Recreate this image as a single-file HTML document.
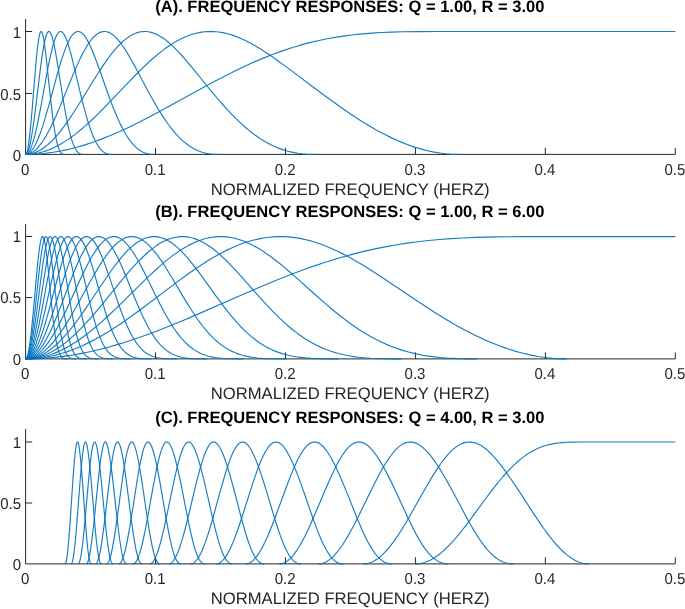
<!DOCTYPE html>
<html lang="en"><head><meta charset="utf-8"><title>TQWT Frequency Responses</title>
<style>html,body{margin:0;padding:0;background:#fff;overflow:hidden}svg text{white-space:pre;text-rendering:geometricPrecision}</style></head>
<body>
<svg width="685" height="609" viewBox="0 0 685 609" style="display:block">
<rect width="685" height="609" fill="#fff"/>
<g stroke="#262626" stroke-width="1.0" fill="none">
<path d="M25.60 19.00 V154.40 H675.30M155.54 154.40 v-6.60M285.48 154.40 v-6.60M415.42 154.40 v-6.60M545.36 154.40 v-6.60M675.30 154.40 v-6.60M25.60 93.40 h6.60M25.60 31.50 h6.60"/>
</g>
<g fill="none" stroke="#0072BD" stroke-width="1.15" stroke-opacity="0.92" stroke-linejoin="round">
<polyline points="25.6,154.4 30.16,154.34 34.76,154.17 39.32,153.87 43.92,153.46 48.52,152.94 53.16,152.29 57.8,151.52 62.48,150.64 67.2,149.63 71.92,148.51 76.68,147.26 81.47,145.9 86.35,144.4 91.27,142.78 96.26,141.02 101.3,139.14 110.34,135.52 119.74,131.45 129.53,126.9 139.92,121.78 149.68,116.75 160.47,111.01 171.33,105.08 200.99,88.71 210.03,83.81 218.2,79.48 227.56,74.66 236.36,70.28 244.81,66.26 252.98,62.54 262.73,58.36 272.29,54.55 281.69,51.1 291.01,47.98 300.29,45.18 309.57,42.68 318.88,40.47 328.32,38.54 336.57,37.09 345.02,35.82 353.66,34.74 362.58,33.84 371.78,33.11 381.5,32.53 391.85,32.09 403.11,31.79 418.34,31.58 438.36,31.51 675.3,31.5"/>
<polyline points="25.6,154.4 28.1,154.35 30.64,154.18 33.17,153.91 35.71,153.52 38.25,153.03 40.83,152.41 43.37,151.7 45.94,150.86 48.52,149.92 51.1,148.87 53.72,147.7 56.33,146.42 58.95,145.03 61.61,143.52 64.3,141.88 67,140.14 69.85,138.18 72.75,136.09 75.68,133.87 78.66,131.5 84.76,126.34 91.23,120.48 97.53,114.41 104.43,107.48 111.45,100.2 130.33,80.34 136.04,74.49 141.15,69.39 147.06,63.74 152.61,58.71 157.93,54.19 163.04,50.16 166.22,47.82 169.31,45.68 172.36,43.69 175.38,41.87 178.39,40.18 181.36,38.66 184.3,37.3 187.23,36.07 190.17,34.99 193.06,34.07 196,33.28 198.89,32.64 201.79,32.14 204.72,31.78 207.61,31.57 210.55,31.5 213.17,31.56 215.82,31.72 218.48,32.01 221.18,32.41 223.91,32.92 226.65,33.55 229.42,34.3 232.2,35.16 235.02,36.13 237.91,37.24 240.81,38.45 243.78,39.79 246.79,41.26 249.89,42.85 253.06,44.59 256.31,46.46 261.35,49.53 266.66,52.96 272.33,56.8 278.52,61.17 290.06,69.64 314.68,88.21 325.94,96.58 337.32,104.82 347.63,112 353.15,115.7 358.5,119.18 363.69,122.45 368.77,125.54 373.73,128.43 378.6,131.16 383.36,133.71 388.08,136.11 392.76,138.36 397.4,140.46 401.96,142.4 406.48,144.19 410.96,145.84 415.4,147.33 419.81,148.67 424.21,149.88 428.57,150.94 432.93,151.87 437.25,152.64 441.58,153.28 445.9,153.77 450.18,154.12 454.46,154.33 458.75,154.4"/>
<polyline points="25.6,154.4 27.27,154.34 28.93,154.18 30.6,153.89 32.26,153.5 33.93,153 35.63,152.37 37.3,151.64 39,150.79 40.71,149.82 42.41,148.74 44.12,147.55 45.82,146.26 47.57,144.82 49.31,143.28 52.88,139.81 56.65,135.7 60.5,131.06 64.5,125.81 68.74,119.83 72.83,113.74 77.31,106.75 81.83,99.49 93.92,79.75 97.57,73.95 100.82,68.93 104.59,63.33 108.12,58.36 111.49,53.9 114.7,49.96 116.69,47.68 118.67,45.53 120.61,43.56 122.52,41.76 124.42,40.09 126.28,38.6 128.15,37.24 130.01,36.02 131.87,34.95 133.7,34.03 135.52,33.26 137.35,32.63 139.17,32.13 140.99,31.78 142.82,31.57 144.64,31.5 146.27,31.55 147.89,31.72 149.52,31.99 151.15,32.36 152.77,32.84 154.44,33.43 156.1,34.13 157.81,34.95 159.51,35.88 161.26,36.92 163,38.07 164.79,39.34 168.44,42.22 172.24,45.61 175.26,48.54 178.43,51.82 181.8,55.49 185.41,59.6 192.31,67.84 207.02,85.99 213.76,94.16 220.9,102.5 227.56,109.89 231.25,113.8 234.86,117.47 238.39,120.92 241.88,124.18 245.29,127.21 248.7,130.08 252.07,132.76 255.44,135.29 258.93,137.72 262.42,139.99 265.87,142.05 269.36,143.95 272.85,145.68 276.34,147.24 279.86,148.64 283.43,149.88 287,150.96 290.65,151.89 294.38,152.67 298.15,153.3 302.03,153.78 306,154.13 310.08,154.33 314.36,154.4"/>
<polyline points="25.6,154.4 26.71,154.34 27.82,154.17 28.93,153.89 30.04,153.49 31.15,152.99 32.26,152.37 33.37,151.64 34.52,150.76 35.63,149.81 36.78,148.71 39.08,146.18 41.38,143.22 43.76,139.72 46.26,135.59 48.8,130.97 51.45,125.71 54.27,119.72 56.97,113.65 59.94,106.65 70.93,79.69 75.49,68.88 77.94,63.36 80.28,58.37 82.5,53.93 84.65,49.95 87.26,45.53 89.8,41.76 91.07,40.08 92.3,38.58 93.53,37.23 94.76,36.01 95.99,34.94 97.18,34.03 98.41,33.24 99.6,32.62 100.79,32.13 101.97,31.78 103.16,31.57 104.39,31.5 105.42,31.55 106.5,31.71 107.57,31.98 108.64,32.35 109.71,32.82 110.82,33.43 111.89,34.11 113,34.92 115.26,36.87 117.56,39.26 119.94,42.11 122.44,45.49 124.42,48.42 126.52,51.73 128.7,55.36 131.08,59.5 135.64,67.82 145.32,86.09 149.72,94.25 154.4,102.59 158.76,109.96 161.22,113.91 163.6,117.58 165.94,121.04 168.24,124.28 170.54,127.36 172.8,130.22 175.06,132.92 177.28,135.4 179.62,137.84 181.96,140.09 184.3,142.16 186.68,144.07 189.06,145.8 191.44,147.35 193.85,148.74 196.31,149.98 198.77,151.03 201.31,151.95 203.89,152.71 206.54,153.33 209.28,153.81 212.1,154.14 215.03,154.34 218.12,154.4"/>
<polyline points="25.6,154.4 26.31,154.35 27.07,154.18 27.82,153.89 28.57,153.48 29.29,152.99 30.04,152.36 31.55,150.76 33.06,148.7 34.56,146.21 36.11,143.22 37.69,139.72 39.36,135.59 41.07,130.93 42.85,125.62 44.71,119.66 48.48,106.61 55.82,79.57 58.83,68.84 60.5,63.22 62.04,58.28 63.51,53.87 64.94,49.88 66.68,45.46 68.35,41.75 70.01,38.57 71.64,36.01 72.47,34.92 73.26,34.02 74.06,33.25 74.85,32.62 75.64,32.14 76.44,31.79 77.23,31.57 78.06,31.5 78.74,31.55 79.45,31.71 80.16,31.98 80.88,32.35 81.59,32.83 82.31,33.41 83.77,34.92 85.28,36.88 86.79,39.23 88.37,42.1 90.04,45.49 92.74,51.69 95.79,59.52 98.8,67.8 108.16,94.28 111.25,102.58 114.15,109.95 117.36,117.57 120.49,124.37 123.55,130.33 125.05,133.02 126.52,135.48 128.11,137.95 129.65,140.17 131.2,142.22 132.79,144.12 134.37,145.84 136,147.42 137.62,148.81 139.25,150.02 140.92,151.08 142.58,151.97 144.33,152.73 146.11,153.34 147.93,153.81 149.84,154.14 151.86,154.34 153.96,154.4"/>
<polyline points="25.6,154.4 26.08,154.35 26.59,154.17 27.07,153.9 27.58,153.48 28.57,152.34 29.57,150.76 30.56,148.73 31.59,146.18 32.62,143.18 33.65,139.76 34.76,135.64 35.91,130.92 37.1,125.6 38.33,119.71 40.87,106.52 45.74,79.54 47.77,68.74 49.91,58.19 51.81,49.91 52.96,45.53 54.11,41.68 55.22,38.51 56.29,36 57.36,34.02 57.92,33.22 58.43,32.61 58.95,32.14 59.5,31.77 60.02,31.57 60.58,31.5 61.01,31.55 61.49,31.71 61.96,31.98 62.44,32.35 63.39,33.41 64.38,34.94 65.37,36.88 66.4,39.3 67.44,42.1 68.55,45.5 70.33,51.65 72.35,59.44 74.38,67.78 80.6,94.23 82.66,102.54 84.61,109.97 86.75,117.59 88.81,124.31 90.83,130.25 92.85,135.5 94.96,140.22 95.99,142.26 97.06,144.18 98.09,145.86 99.16,147.41 100.23,148.78 101.34,150.02 102.45,151.08 103.6,152 104.75,152.74 105.94,153.35 107.17,153.82 108.44,154.14 109.79,154.34 111.17,154.4"/>
<polyline points="25.6,154.4 25.92,154.35 26.23,154.19 26.55,153.92 26.91,153.5 27.54,152.42 28.22,150.83 28.89,148.78 29.57,146.28 30.24,143.36 30.95,139.83 32.46,131 34.09,119.71 35.75,106.73 40.39,68.64 41.82,58.09 43.09,49.82 43.84,45.53 44.59,41.74 45.35,38.51 46.06,35.99 46.78,34.02 47.49,32.61 47.85,32.12 48.2,31.77 48.56,31.57 48.92,31.5 49.23,31.56 49.55,31.73 50.19,32.39 50.82,33.47 51.45,34.95 52.13,36.93 52.8,39.31 53.52,42.23 54.23,45.51 55.42,51.67 56.77,59.45 62.28,94.33 64.94,109.99 66.36,117.62 67.75,124.39 69.1,130.32 70.41,135.42 71.8,140.11 73.23,144.16 74.65,147.45 75.37,148.81 76.08,150.01 76.83,151.08 77.59,151.99 78.34,152.72 79.13,153.34 79.97,153.81 80.8,154.14 81.71,154.34 82.66,154.4"/>
<polyline points="25.6,154.4 25.8,154.35 26.04,154.18 26.47,153.5 26.91,152.38 27.34,150.83 27.78,148.84 28.26,146.2 29.17,139.83 30.16,131.13 31.27,119.56 32.38,106.57 35.43,68.94 36.39,58.37 37.26,49.82 38.29,41.56 38.77,38.51 39.24,35.99 39.72,34.02 40.19,32.61 40.67,31.77 40.91,31.57 41.14,31.5 41.34,31.55 41.54,31.7 41.98,32.36 42.41,33.47 42.85,35 43.72,39.24 44.67,45.42 45.47,51.56 46.38,59.46 50.03,94.09 51.81,109.89 52.76,117.52 53.68,124.21 54.59,130.24 55.46,135.35 56.37,139.99 57.32,144.06 58.28,147.37 59.27,150.04 60.26,151.99 60.77,152.74 61.29,153.34 61.84,153.81 62.4,154.14 62.99,154.33 63.63,154.4"/>
</g>
<g font-family="'Liberation Sans', Arial, Helvetica, sans-serif" fill="#262626">
<g font-size="15.8" text-anchor="middle">
<text transform="translate(25.20 175.40) scale(0.95 1.0)">0</text>
<text transform="translate(155.14 175.40) scale(0.95 1.0)">0.1</text>
<text transform="translate(285.08 175.40) scale(0.95 1.0)">0.2</text>
<text transform="translate(415.02 175.40) scale(0.95 1.0)">0.3</text>
<text transform="translate(544.96 175.40) scale(0.95 1.0)">0.4</text>
<text transform="translate(674.90 175.40) scale(0.95 1.0)">0.5</text>
</g>
<g font-size="15.8" text-anchor="end">
<text transform="translate(21.00 161.20) scale(0.95 1.0)">0</text>
<text transform="translate(21.00 100.20) scale(0.95 1.0)">0.5</text>
<text transform="translate(21.00 38.30) scale(0.95 1.0)">1</text>
</g>
<text x="350.15" y="194.60" font-size="16.65" text-anchor="middle">NORMALIZED FREQUENCY (HERZ)</text>
<text x="349.85" y="12.40" font-size="16.55" font-weight="bold" text-anchor="middle" fill="#000">(A). FREQUENCY RESPONSES: Q = 1.00, R = 3.00</text>
</g>
<g stroke="#262626" stroke-width="1.0" fill="none">
<path d="M25.60 224.00 V358.90 H675.30M155.54 358.90 v-6.60M285.48 358.90 v-6.60M415.42 358.90 v-6.60M545.36 358.90 v-6.60M675.30 358.90 v-6.60M25.60 297.60 h6.60M25.60 236.50 h6.60"/>
</g>
<g fill="none" stroke="#0072BD" stroke-width="1.15" stroke-opacity="0.92" stroke-linejoin="round">
<polyline points="25.6,358.9 31.47,358.84 37.34,358.65 43.21,358.35 49.08,357.92 54.98,357.37 60.93,356.69 66.88,355.89 72.87,354.97 78.9,353.92 84.96,352.74 91.07,351.44 97.26,350.01 103.52,348.44 109.83,346.75 116.25,344.91 122.79,342.93 133.98,339.3 145.59,335.22 157.77,330.67 170.7,325.55 182.47,320.7 195.56,315.12 243.26,294.22 263.09,285.71 273.76,281.29 283.83,277.24 293.47,273.5 302.79,270.02 313.77,266.11 324.52,262.51 335.02,259.22 345.41,256.19 355.72,253.42 365.95,250.91 376.23,248.62 386.5,246.57 396.77,244.75 407.2,243.14 417.78,241.73 428.57,240.51 439.63,239.49 451.09,238.64 463.07,237.95 475.76,237.42 486.15,237.12 497.29,236.89 523.58,236.65 675.3,236.6"/>
<polyline points="25.6,358.9 29.29,358.84 33.02,358.67 36.7,358.38 40.43,357.97 44.16,357.45 47.89,356.81 51.61,356.06 55.38,355.18 59.15,354.19 62.95,353.07 66.76,351.84 70.57,350.5 74.41,349.03 78.3,347.44 82.23,345.72 86.15,343.89 90.24,341.87 94.36,339.72 98.56,337.42 102.81,334.99 107.13,332.41 111.53,329.68 116.05,326.77 120.73,323.65 129.57,317.53 139.25,310.52 148.97,303.26 174.58,283.85 182.24,278.19 189.1,273.26 196.99,267.8 204.36,262.96 211.42,258.6 218.2,254.7 222.37,252.46 226.49,250.37 230.53,248.44 234.54,246.67 238.51,245.03 242.39,243.57 246.28,242.23 250.12,241.05 253.97,240 257.78,239.09 261.58,238.33 265.35,237.7 269.12,237.22 272.89,236.88 276.65,236.67 280.42,236.6 284.03,236.66 287.64,236.85 291.29,237.17 294.93,237.61 298.58,238.18 302.27,238.88 306,239.71 309.72,240.66 313.49,241.74 317.3,242.96 321.15,244.3 325.07,245.79 329.04,247.42 333.04,249.17 337.13,251.06 341.33,253.13 347.99,256.61 354.97,260.51 362.35,264.87 370.24,269.76 377.14,274.19 384.87,279.28 412.43,297.84 423.69,305.31 435.23,312.73 445.86,319.26 451.65,322.68 457.28,325.89 462.79,328.92 468.18,331.78 473.5,334.48 478.77,337.04 483.97,339.44 489.12,341.7 494.24,343.82 499.27,345.78 504.27,347.6 509.23,349.29 514.14,350.83 519.06,352.24 523.94,353.51 528.78,354.65 533.61,355.65 538.41,356.51 543.21,357.24 547.97,357.84 552.77,358.31 557.53,358.64 562.28,358.83 567.04,358.9"/>
<polyline points="25.6,358.9 28.53,358.84 31.47,358.66 34.4,358.36 37.38,357.94 40.35,357.4 43.33,356.73 46.3,355.95 49.27,355.05 52.25,354.03 55.26,352.87 58.28,351.6 61.33,350.2 64.38,348.68 67.48,347.02 70.57,345.25 73.7,343.34 76.91,341.27 80.12,339.08 83.42,336.73 86.75,334.23 90.12,331.6 93.57,328.8 100.75,322.66 107.57,316.48 115.06,309.39 122.56,302.07 141.95,282.85 147.66,277.33 152.77,272.51 158.68,267.16 164.19,262.41 169.43,258.16 174.46,254.36 177.6,252.14 180.65,250.1 183.66,248.21 186.64,246.47 189.57,244.87 192.47,243.43 195.32,242.13 198.18,240.97 201.03,239.94 203.85,239.05 206.66,238.3 209.44,237.69 212.25,237.21 215.03,236.87 217.81,236.67 220.58,236.6 223.16,236.66 225.74,236.83 228.31,237.12 230.89,237.52 233.51,238.05 236.13,238.68 238.74,239.44 241.4,240.31 244.06,241.3 246.75,242.41 249.49,243.65 252.23,245 255,246.47 257.86,248.09 260.75,249.84 263.69,251.72 268.48,254.99 273.52,258.68 278.79,262.79 284.43,267.4 289.5,271.72 295.13,276.64 316.15,295.5 325.07,303.35 334.39,311.22 338.75,314.75 342.99,318.07 347.91,321.77 352.71,325.22 357.47,328.48 362.15,331.5 366.83,334.35 371.47,337.01 376.11,339.48 380.75,341.79 385.82,344.1 390.9,346.22 396.01,348.15 401.21,349.9 406.48,351.48 411.84,352.89 417.31,354.14 422.9,355.23 428.53,356.14 434.36,356.92 440.39,357.55 446.73,358.06 453.35,358.44 460.41,358.7 468.11,358.85 476.79,358.9"/>
<polyline points="25.6,358.9 27.98,358.84 30.4,358.66 32.82,358.35 35.24,357.92 37.65,357.37 40.07,356.7 42.49,355.91 44.95,354.98 47.37,353.95 49.83,352.78 52.29,351.5 54.79,350.07 57.28,348.52 59.78,346.85 62.32,345.04 64.86,343.12 67.48,341.02 70.09,338.8 72.75,336.44 75.45,333.93 81,328.43 86.83,322.23 92.34,316.02 98.41,308.87 104.43,301.55 119.94,282.43 124.5,276.94 128.58,272.15 133.26,266.87 137.62,262.19 141.79,257.98 145.79,254.21 148.29,252 150.71,249.98 153.09,248.12 155.47,246.38 157.81,244.79 160.11,243.36 162.37,242.08 164.63,240.93 166.89,239.9 169.11,239.03 171.33,238.29 173.55,237.68 175.77,237.2 177.95,236.87 180.17,236.67 182.35,236.6 184.38,236.66 186.4,236.82 188.42,237.11 190.44,237.5 192.47,238 194.53,238.63 196.59,239.36 198.65,240.21 200.75,241.18 202.86,242.26 205,243.47 207.14,244.79 209.32,246.23 211.54,247.81 216.06,251.32 219.87,254.57 223.83,258.21 228,262.28 232.4,266.8 236.44,271.13 240.92,276.06 257.94,295.3 265.27,303.42 269.24,307.67 272.97,311.56 276.57,315.2 280.06,318.6 284.19,322.44 288.19,325.98 292.16,329.3 296.08,332.38 300.01,335.27 303.94,337.96 307.86,340.44 311.79,342.73 316.11,345.03 320.47,347.11 324.91,349 329.43,350.7 334.03,352.22 338.79,353.56 343.67,354.73 348.71,355.73 353.78,356.56 359.09,357.24 364.73,357.8 370.71,358.23 377.06,358.54 384.04,358.75 391.93,358.86 401.6,358.9"/>
<polyline points="25.6,358.9 27.58,358.84 29.57,358.66 31.55,358.35 33.57,357.91 35.55,357.36 37.58,356.68 39.56,355.89 41.58,354.95 43.6,353.9 45.63,352.73 47.65,351.43 49.67,350.02 51.73,348.46 53.79,346.79 55.9,344.96 58,343.02 60.14,340.92 62.32,338.67 66.72,333.78 71.28,328.27 76.08,322.04 80.64,315.77 85.6,308.64 90.55,301.29 103.24,282.2 110.26,272.01 114.07,266.77 117.64,262.09 121.05,257.88 124.3,254.13 126.32,251.95 128.31,249.93 130.25,248.07 132.19,246.33 134.09,244.75 135.96,243.33 137.82,242.04 139.65,240.9 141.47,239.89 143.29,239.01 145.12,238.27 146.9,237.67 148.73,237.2 150.51,236.86 152.3,236.67 154.08,236.6 155.71,236.66 157.33,236.82 158.96,237.1 160.62,237.5 162.25,237.99 163.92,238.61 165.58,239.34 167.25,240.17 168.95,241.14 170.66,242.21 172.36,243.39 174.11,244.7 177.64,247.67 181.28,251.14 184.38,254.37 187.59,257.99 190.96,262.02 194.57,266.58 197.86,270.9 201.55,275.89 215.51,295.32 221.57,303.57 227.96,311.86 230.93,315.53 233.83,318.97 237.24,322.85 240.61,326.48 243.9,329.81 247.19,332.94 250.44,335.82 253.73,338.52 257.02,341.01 260.32,343.29 263.92,345.56 267.61,347.63 271.34,349.48 275.15,351.14 279.07,352.62 283.08,353.91 287.24,355.03 291.6,355.99 295.96,356.77 300.56,357.41 305.44,357.92 310.68,358.31 316.27,358.59 322.53,358.77 329.75,358.87 338.95,358.9"/>
<polyline points="25.6,358.9 27.23,358.84 28.89,358.65 30.52,358.35 32.18,357.92 33.85,357.36 35.51,356.68 37.18,355.88 38.84,354.95 40.51,353.9 42.22,352.7 43.88,351.42 45.59,349.98 47.29,348.42 49,346.74 52.49,342.95 56.05,338.61 59.7,333.71 63.51,328.14 67.48,321.91 71.2,315.71 75.33,308.54 89.92,282.08 95.71,271.92 98.88,266.63 101.82,261.97 104.59,257.83 107.29,254.07 110.58,249.89 112.21,248 113.79,246.29 115.34,244.73 116.88,243.31 118.43,242.01 119.94,240.87 121.45,239.87 122.95,238.99 124.46,238.25 125.93,237.65 127.39,237.19 128.86,236.86 130.33,236.67 131.79,236.6 133.1,236.65 134.45,236.82 135.8,237.1 137.15,237.48 138.5,237.98 139.88,238.61 141.23,239.32 142.62,240.16 144.01,241.12 145.4,242.18 148.21,244.64 151.11,247.58 154.12,251.05 156.66,254.27 159.32,257.9 162.09,261.93 165.07,266.49 170.81,275.82 182.35,295.34 187.39,303.67 192.7,312.05 197.58,319.22 200.44,323.14 203.21,326.75 205.95,330.1 208.69,333.23 211.38,336.11 214.12,338.81 216.85,341.29 219.63,343.58 222.64,345.84 225.7,347.88 228.83,349.72 232.04,351.37 235.33,352.83 238.7,354.09 242.23,355.2 245.88,356.13 249.57,356.88 253.45,357.49 257.58,357.98 262.06,358.35 266.86,358.61 272.25,358.78 286.73,358.9"/>
<polyline points="25.6,358.9 26.95,358.84 28.34,358.65 29.72,358.34 31.11,357.9 32.46,357.36 33.85,356.67 35.24,355.87 36.62,354.93 38.01,353.88 39.4,352.71 40.79,351.42 42.22,349.97 45.07,346.7 47.97,342.92 50.94,338.55 53.95,333.67 57.13,328.08 60.42,321.85 63.55,315.57 66.96,308.42 79.01,282.09 83.81,271.93 86.43,266.67 88.85,262.05 91.19,257.83 93.41,254.09 96.15,249.9 98.76,246.36 100.07,244.77 101.34,243.35 102.61,242.06 103.88,240.9 105.15,239.88 106.38,239.01 107.61,238.28 108.83,237.67 110.06,237.2 111.29,236.87 112.52,236.67 113.71,236.6 114.82,236.65 115.93,236.82 117.04,237.09 118.15,237.48 119.26,237.97 120.41,238.59 121.52,239.3 122.67,240.14 124.97,242.14 127.31,244.61 129.73,247.58 132.19,251 134.29,254.21 136.47,257.8 138.77,261.84 141.23,266.38 146.03,275.78 155.63,295.4 159.79,303.72 164.19,312.1 168.28,319.34 170.66,323.29 172.96,326.89 175.26,330.28 177.52,333.39 179.78,336.28 182.04,338.96 184.34,341.46 186.64,343.74 189.14,345.98 191.71,348.03 194.33,349.87 196.99,351.49 199.72,352.93 202.54,354.18 205.47,355.26 208.57,356.19 211.66,356.93 214.91,357.53 218.4,358.01 222.17,358.37 226.21,358.62 230.77,358.79 243.18,358.9"/>
<polyline points="25.6,358.9 26.71,358.84 27.86,358.66 29.01,358.35 30.16,357.92 31.31,357.36 32.46,356.68 33.61,355.87 34.76,354.95 35.91,353.9 37.1,352.69 39.44,349.95 41.82,346.68 44.2,342.93 46.66,338.6 49.19,333.67 51.81,328.13 54.55,321.9 57.17,315.59 60.02,308.4 70.05,282.05 74.06,271.86 76.24,266.59 78.26,261.94 80.16,257.82 82.03,254.05 84.29,249.89 86.47,246.34 88.61,243.34 89.68,242.03 90.71,240.9 91.74,239.9 92.77,239.02 93.81,238.28 94.84,237.67 95.87,237.2 96.86,236.87 97.89,236.67 98.88,236.6 99.79,236.65 100.71,236.81 101.62,237.08 102.57,237.47 103.48,237.96 104.43,238.58 105.38,239.31 106.34,240.15 108.24,242.15 110.18,244.61 112.17,247.54 114.23,250.99 115.97,254.2 117.8,257.82 119.7,261.84 121.76,266.43 125.73,275.79 133.7,295.41 137.15,303.71 140.84,312.16 144.21,319.36 146.15,323.24 148.09,326.91 150,330.28 151.9,333.43 153.8,336.36 155.71,339.07 157.61,341.55 159.51,343.81 161.62,346.07 163.72,348.07 165.9,349.9 168.12,351.53 170.42,352.97 172.76,354.22 175.22,355.3 177.79,356.22 180.37,356.95 183.11,357.55 186,358.02 189.17,358.38 192.59,358.63 196.43,358.79 206.94,358.9"/>
<polyline points="25.6,358.9 26.55,358.84 27.5,358.65 28.46,358.34 29.41,357.91 30.36,357.36 31.31,356.68 32.26,355.88 33.25,354.92 34.21,353.88 35.2,352.67 37.14,349.93 39.12,346.65 41.1,342.9 43.17,338.53 45.27,333.61 47.45,328.06 49.75,321.77 51.89,315.57 54.27,308.37 62.64,281.98 65.97,271.8 67.75,266.62 69.46,261.92 71.04,257.79 72.59,254.04 74.49,249.83 76.32,246.27 78.1,243.28 79.85,240.86 80.72,239.84 81.55,239 82.42,238.25 83.26,237.66 84.13,237.18 84.96,236.86 85.8,236.66 86.63,236.6 87.38,236.65 88.14,236.82 88.89,237.08 89.68,237.48 90.44,237.96 91.23,238.58 92.81,240.15 94.4,242.15 96.03,244.63 97.69,247.59 99.4,251.03 100.86,254.28 102.37,257.88 103.96,261.91 105.66,266.48 108.95,275.82 115.58,295.42 118.47,303.79 121.52,312.19 124.34,319.42 125.97,323.32 127.59,327 129.18,330.38 130.76,333.53 132.35,336.46 133.94,339.16 135.52,341.63 137.11,343.89 138.85,346.13 140.64,348.17 142.42,349.96 144.29,351.59 146.19,353.02 148.17,354.27 150.19,355.33 152.34,356.24 154.48,356.97 156.78,357.57 159.2,358.03 161.85,358.39 164.71,358.63 167.92,358.79 176.72,358.9"/>
<polyline points="25.6,358.9 26.39,358.84 27.19,358.65 27.98,358.34 28.77,357.91 29.57,357.35 30.36,356.68 31.15,355.88 31.98,354.91 33.57,352.7 35.2,349.96 36.86,346.65 38.53,342.87 40.23,338.53 41.98,333.64 43.8,328.06 45.7,321.82 49.47,308.41 56.45,281.98 59.23,271.8 62.12,261.95 63.47,257.74 64.74,254.04 66.33,249.83 67.83,246.3 69.3,243.34 70.77,240.88 72.19,239.01 72.91,238.27 73.62,237.66 74.34,237.19 75.05,236.86 75.76,236.66 76.44,236.6 77.07,236.66 77.71,236.82 78.34,237.1 79.01,237.5 80.28,238.6 81.59,240.16 82.9,242.15 84.25,244.61 85.64,247.57 87.06,251.03 88.25,254.19 89.52,257.82 92.26,266.4 95,275.72 102.97,303.86 105.5,312.25 107.84,319.45 110.54,327 111.89,330.45 113.2,333.57 114.51,336.46 115.81,339.14 117.12,341.6 118.47,343.9 119.94,346.16 121.41,348.17 122.91,349.99 124.46,351.61 126.04,353.03 127.71,354.29 129.42,355.36 131.2,356.27 132.98,356.99 134.89,357.58 136.91,358.04 139.13,358.39 141.47,358.63 144.17,358.79 151.54,358.9"/>
<polyline points="25.6,358.9 26.23,358.84 26.91,358.66 27.58,358.34 28.26,357.9 28.89,357.37 29.57,356.68 30.91,354.92 32.26,352.66 33.61,349.92 34.96,346.72 36.35,342.94 37.77,338.59 39.24,333.65 40.75,328.13 42.33,321.88 45.51,308.34 51.3,282.02 53.6,271.89 56.02,262 58.2,254.09 59.5,249.91 60.77,246.33 62,243.35 63.23,240.88 64.42,239.01 65.02,238.27 65.61,237.66 66.21,237.19 66.8,236.86 67.4,236.66 67.95,236.6 68.47,236.65 69.02,236.83 69.54,237.09 70.09,237.5 71.16,238.6 72.23,240.14 73.34,242.16 74.45,244.6 75.6,247.54 76.79,250.99 78.86,257.83 81.12,266.33 83.42,275.73 90.04,303.8 92.18,312.3 94.12,319.48 96.38,327.07 98.56,333.54 99.64,336.39 100.75,339.12 101.86,341.62 102.97,343.9 104.2,346.17 105.42,348.19 106.69,350.02 107.96,351.61 109.27,353.02 110.66,354.29 112.09,355.36 113.55,356.26 115.06,356.99 116.65,357.58 118.35,358.04 120.18,358.39 122.16,358.64 124.38,358.79 130.57,358.9"/>
<polyline points="25.6,358.9 26.12,358.85 26.67,358.67 27.23,358.36 27.78,357.93 28.34,357.37 28.89,356.69 30,354.96 31.11,352.75 32.26,349.96 33.41,346.67 34.56,342.92 35.75,338.56 36.98,333.59 38.25,328 39.56,321.81 42.18,308.4 47.01,282.01 48.92,271.95 50.94,262.02 52.76,254.08 53.83,249.97 54.9,246.34 55.94,243.34 56.97,240.86 57.96,238.99 58.95,237.65 59.46,237.16 59.94,236.85 60.42,236.66 60.89,236.6 61.33,236.66 61.76,236.82 62.2,237.09 62.68,237.5 63.55,238.58 64.46,240.14 65.37,242.14 66.33,244.65 67.28,247.58 68.27,251.03 69.97,257.82 71.88,266.42 73.78,275.77 79.29,303.81 81.08,312.31 82.7,319.52 84.61,327.18 86.43,333.66 88.25,339.24 90.08,343.94 91.07,346.14 92.1,348.17 93.17,350.03 94.24,351.64 95.35,353.07 96.5,354.32 97.69,355.39 98.92,356.28 100.19,357.01 101.5,357.59 102.89,358.04 104.43,358.4 106.06,358.64 107.92,358.79 113.08,358.9"/>
<polyline points="25.6,358.9 26.04,358.84 26.51,358.66 26.95,358.37 27.42,357.92 28.34,356.7 29.29,354.92 30.2,352.73 31.15,349.96 32.1,346.7 33.09,342.81 34.09,338.44 35.12,333.42 37.26,321.66 39.44,308.23 45.03,271.94 46.74,261.91 48.24,254.04 49.15,249.85 50.03,246.31 50.9,243.27 51.73,240.87 52.57,238.99 53.36,237.69 53.79,237.19 54.19,236.87 54.59,236.67 54.98,236.6 55.34,236.65 55.7,236.8 56.05,237.05 56.45,237.45 57.2,238.55 57.96,240.09 58.71,242.05 59.5,244.54 60.3,247.45 61.13,250.92 62.56,257.73 64.14,266.33 65.73,275.66 70.33,303.75 71.8,312.14 73.19,319.54 74.73,327.02 76.28,333.62 77.79,339.16 79.33,343.95 80.16,346.17 81.04,348.23 81.91,350.04 82.78,351.61 83.69,353.03 84.65,354.28 85.64,355.35 86.67,356.26 87.7,356.98 88.81,357.57 90,358.04 91.27,358.39 92.66,358.64 94.2,358.79 98.49,358.9"/>
<polyline points="25.6,358.9 25.96,358.85 26.35,358.66 26.71,358.38 27.11,357.94 27.86,356.74 28.65,354.97 29.45,352.69 30.24,349.91 31.03,346.64 31.83,342.9 32.66,338.51 33.49,333.66 35.28,321.93 37.1,308.48 41.82,271.74 43.21,261.95 44.48,254 45.23,249.85 45.94,246.37 46.66,243.37 47.37,240.89 48.08,238.96 48.76,237.65 49.12,237.17 49.43,236.86 49.79,236.66 50.11,236.6 50.38,236.65 50.7,236.81 51.34,237.49 51.97,238.62 52.6,240.2 53.24,242.21 53.87,244.63 54.55,247.61 55.22,251 56.41,257.82 57.72,266.33 62.88,303.76 64.1,312.19 65.25,319.54 66.56,327.14 67.83,333.63 69.1,339.23 70.37,343.94 71.08,346.21 71.8,348.23 72.51,350.01 73.26,351.64 74.02,353.04 74.81,354.29 75.64,355.37 76.52,356.29 77.39,357.01 78.3,357.59 79.25,358.04 80.32,358.39 81.47,358.64 82.78,358.79 86.35,358.9"/>
<polyline points="25.6,358.9 25.92,358.84 26.23,358.65 26.87,357.92 27.5,356.7 28.18,354.87 28.81,352.66 29.49,349.82 30.12,346.67 30.79,342.86 32.18,333.61 33.69,321.71 35.2,308.36 39.12,271.68 40.27,261.95 41.34,253.91 42.57,246.26 43.17,243.28 43.76,240.82 44.36,238.9 44.91,237.62 45.47,236.85 45.74,236.66 46.02,236.6 46.26,236.65 46.54,236.83 47.05,237.5 47.57,238.6 48.08,240.13 48.6,242.07 49.15,244.6 50.27,250.87 51.26,257.68 52.37,266.34 56.69,303.98 58.63,319.45 59.7,326.92 60.77,333.52 61.84,339.2 62.91,343.97 64.1,348.25 64.7,350.03 65.33,351.68 65.97,353.08 66.64,354.35 67.32,355.39 68.03,356.29 68.74,357 69.5,357.58 70.33,358.05 71.2,358.39 72.15,358.64 73.23,358.79 76.24,358.9"/>
<polyline points="25.6,358.9 25.84,358.85 26.12,358.67 26.67,357.89 27.19,356.7 27.74,354.89 28.26,352.76 28.81,349.96 29.92,342.91 31.07,333.73 32.34,321.71 33.61,308.21 36.86,271.75 37.81,262.07 38.69,254.18 39.72,246.43 40.23,243.32 40.71,240.94 41.18,239.06 41.66,237.7 42.14,236.88 42.37,236.67 42.61,236.6 42.81,236.65 43.05,236.83 43.48,237.51 43.92,238.65 44.36,240.22 45.23,244.6 46.18,251.08 47.01,257.97 47.93,266.53 51.49,303.85 53.12,319.39 54.03,327.03 54.9,333.47 55.78,339.04 56.69,343.93 57.64,348.08 58.67,351.56 59.19,352.95 59.74,354.22 60.34,355.35 60.93,356.25 61.53,356.97 62.16,357.56 62.84,358.03 63.59,358.39 64.38,358.63 65.29,358.79 67.79,358.9"/>
</g>
<g font-family="'Liberation Sans', Arial, Helvetica, sans-serif" fill="#262626">
<g font-size="15.8" text-anchor="middle">
<text transform="translate(25.20 378.90) scale(0.95 1.0)">0</text>
<text transform="translate(155.14 378.90) scale(0.95 1.0)">0.1</text>
<text transform="translate(285.08 378.90) scale(0.95 1.0)">0.2</text>
<text transform="translate(415.02 378.90) scale(0.95 1.0)">0.3</text>
<text transform="translate(544.96 378.90) scale(0.95 1.0)">0.4</text>
<text transform="translate(674.90 378.90) scale(0.95 1.0)">0.5</text>
</g>
<g font-size="15.8" text-anchor="end">
<text transform="translate(21.00 364.70) scale(0.95 1.0)">0</text>
<text transform="translate(21.00 303.40) scale(0.95 1.0)">0.5</text>
<text transform="translate(21.00 242.30) scale(0.95 1.0)">1</text>
</g>
<text x="350.15" y="399.10" font-size="16.65" text-anchor="middle">NORMALIZED FREQUENCY (HERZ)</text>
<text x="349.85" y="217.40" font-size="16.55" font-weight="bold" text-anchor="middle" fill="#000">(B). FREQUENCY RESPONSES: Q = 1.00, R = 6.00</text>
</g>
<g stroke="#262626" stroke-width="1.0" fill="none">
<path d="M25.60 429.10 V563.90 H675.30M155.54 563.90 v-6.60M285.48 563.90 v-6.60M415.42 563.90 v-6.60M545.36 563.90 v-6.60M675.30 563.90 v-6.60M25.60 503.00 h6.60M25.60 442.00 h6.60"/>
</g>
<g fill="none" stroke="#0072BD" stroke-width="1.15" stroke-opacity="0.92" stroke-linejoin="round">
<polyline points="415.4,563.9 417.23,563.84 419.05,563.67 420.88,563.38 422.74,562.97 424.56,562.46 426.43,561.81 428.29,561.05 430.16,560.18 432.02,559.19 433.92,558.07 435.83,556.84 437.77,555.47 439.71,553.98 441.7,552.36 445.7,548.77 449.31,545.19 453.08,541.13 457,536.61 461.17,531.52 465.05,526.56 469.37,520.85 485.55,498.78 492.45,489.6 496.18,484.84 499.71,480.49 503.08,476.5 506.37,472.79 510.3,468.62 514.1,464.86 517.83,461.47 521.56,458.37 525.25,455.6 528.97,453.11 532.7,450.92 536.51,448.98 539.8,447.55 543.17,446.29 546.62,445.22 550.19,444.33 553.88,443.6 557.76,443.02 561.89,442.59 566.41,442.29 572.52,442.08 580.53,442.01 675.3,442"/>
<polyline points="363.42,563.9 364.84,563.85 366.31,563.69 367.78,563.41 369.25,563.02 370.71,562.53 372.18,561.92 373.65,561.21 375.15,560.36 376.62,559.43 378.13,558.36 379.64,557.19 381.18,555.88 384.28,552.94 387.45,549.49 390.78,545.45 394.23,540.84 397.8,535.66 401.6,529.76 405.29,523.72 409.38,516.75 424.6,489.73 430.91,478.9 434.32,473.34 437.49,468.41 440.51,464 443.36,460.11 446.89,455.73 448.59,453.79 450.26,452.03 451.93,450.4 453.55,448.94 455.18,447.61 456.76,446.44 458.35,445.4 459.94,444.5 461.52,443.73 463.11,443.11 464.69,442.62 466.24,442.28 467.83,442.07 469.41,442 470.96,442.06 472.55,442.27 474.09,442.59 475.68,443.06 477.27,443.66 478.89,444.4 480.52,445.27 482.18,446.3 483.85,447.45 485.55,448.75 487.26,450.17 489,451.75 490.79,453.47 492.61,455.35 496.42,459.62 499.67,463.58 503.12,468.06 506.77,473.05 510.73,478.71 518.07,489.67 535.28,516.15 539.84,522.92 543.92,528.76 548.29,534.68 552.37,539.89 556.3,544.51 560.1,548.61 563.87,552.25 565.73,553.89 567.56,555.38 569.38,556.76 571.17,558 572.95,559.12 574.74,560.14 576.52,561.03 578.27,561.79 580.01,562.44 581.75,562.96 583.5,563.38 585.24,563.67 586.99,563.84 588.69,563.9"/>
<polyline points="318.37,563.9 319.64,563.85 320.91,563.68 322.18,563.41 323.45,563.02 324.71,562.52 325.98,561.91 327.25,561.2 328.56,560.35 329.87,559.39 331.18,558.32 333.8,555.86 336.45,552.94 339.19,549.51 342.08,545.46 345.06,540.87 348.19,535.63 351.48,529.74 354.69,523.67 358.22,516.72 371.43,489.68 376.86,478.92 379.83,473.32 382.57,468.41 385.19,464 387.69,460.07 390.7,455.75 393.63,452.04 395.06,450.42 396.49,448.94 397.92,447.59 399.3,446.41 400.69,445.37 402.08,444.47 403.47,443.7 404.82,443.09 406.16,442.62 407.51,442.28 408.86,442.07 410.25,442 411.64,442.07 413.02,442.28 414.41,442.63 415.84,443.13 417.27,443.77 418.7,444.54 420.12,445.45 421.59,446.52 423.06,447.71 424.56,449.07 426.07,450.56 427.62,452.21 430.79,455.97 434.12,460.4 436.98,464.54 439.95,469.16 443.08,474.3 446.45,480.11 452.64,491.33 466.68,517.66 470.33,524.23 473.62,529.91 477.15,535.66 480.48,540.7 483.69,545.15 486.82,549.06 488.45,550.92 490.07,552.65 491.7,554.25 493.33,555.73 494.95,557.08 496.58,558.3 498.2,559.39 499.83,560.35 501.45,561.19 503.12,561.92 504.79,562.53 506.49,563.03 508.24,563.42 509.98,563.69 511.76,563.85 513.63,563.9"/>
<polyline points="279.35,563.9 280.42,563.85 281.53,563.68 282.64,563.4 283.75,563.01 284.86,562.51 285.97,561.89 287.08,561.16 288.19,560.33 289.3,559.39 290.45,558.3 292.71,555.84 295.01,552.92 297.39,549.49 299.89,545.45 302.47,540.86 305.16,535.66 308.02,529.76 310.8,523.71 313.85,516.77 325.31,489.7 330.03,478.91 332.57,473.39 334.95,468.47 337.21,464.07 339.39,460.11 342,455.78 344.54,452.07 345.81,450.41 347.04,448.94 348.27,447.6 349.46,446.43 350.65,445.4 351.84,444.5 353.03,443.73 354.22,443.11 355.41,442.62 356.6,442.27 357.79,442.07 358.98,442 360.17,442.07 361.39,442.29 362.58,442.63 363.81,443.13 365.04,443.76 366.27,444.53 367.5,445.43 368.77,446.5 370.04,447.69 371.35,449.05 372.66,450.54 374,452.19 376.78,455.99 379.64,460.37 382.13,464.56 384.71,469.17 387.45,474.36 390.34,480.12 395.7,491.32 407.87,517.67 411.04,524.26 413.9,529.94 416.91,535.61 419.81,540.66 422.58,545.1 425.32,549.05 428.17,552.69 429.6,554.31 430.99,555.76 432.38,557.09 433.8,558.32 435.19,559.39 436.62,560.37 438.05,561.22 439.47,561.94 440.9,562.54 442.37,563.03 443.88,563.42 445.38,563.69 446.93,563.85 448.56,563.9"/>
<polyline points="245.48,563.9 246.44,563.85 247.39,563.69 248.34,563.41 249.29,563.03 250.24,562.53 251.19,561.93 252.15,561.22 253.14,560.37 255.08,558.37 257.06,555.89 259.09,552.93 261.15,549.49 263.33,545.43 265.55,540.87 267.89,535.66 270.35,529.8 272.77,523.71 275.42,516.75 285.34,489.73 289.42,478.95 291.64,473.38 293.7,468.46 295.69,464 297.55,460.1 299.81,455.78 302.03,452.04 304.17,448.95 305.24,447.6 306.27,446.43 307.31,445.4 308.34,444.5 309.37,443.74 310.4,443.11 311.43,442.62 312.46,442.28 313.49,442.07 314.52,442 315.55,442.07 316.59,442.28 317.62,442.62 318.69,443.11 319.76,443.75 320.83,444.52 321.9,445.42 323.01,446.49 324.12,447.69 325.27,449.08 327.57,452.22 329.95,455.98 332.45,460.4 334.59,464.54 336.85,469.21 339.23,474.42 341.73,480.16 346.37,491.36 356.91,517.7 359.65,524.26 362.11,529.91 364.77,535.67 367.26,540.7 369.68,545.16 372.02,549.05 374.48,552.66 375.71,554.28 376.94,555.76 378.13,557.08 379.36,558.3 380.59,559.4 381.82,560.37 383.05,561.21 384.28,561.93 385.54,562.55 386.81,563.04 388.12,563.42 389.43,563.69 390.78,563.85 392.17,563.9"/>
<polyline points="216.18,563.9 216.97,563.85 217.81,563.69 218.64,563.41 219.47,563.03 220.3,562.53 221.14,561.91 222.8,560.36 224.51,558.34 226.21,555.87 227.96,552.93 229.74,549.49 231.61,545.49 233.55,540.89 235.57,535.69 237.71,529.81 239.81,523.71 242.11,516.75 250.72,489.69 254.25,478.94 256.19,473.32 257.98,468.41 259.68,463.99 261.31,460.06 263.29,455.7 265.19,452.01 267.02,448.97 268.84,446.45 269.75,445.39 270.63,444.51 271.54,443.73 272.41,443.12 273.32,442.62 274.19,442.28 275.07,442.07 275.98,442 276.89,442.07 277.8,442.28 278.71,442.63 279.63,443.12 280.54,443.75 281.49,444.54 282.4,445.43 283.35,446.49 285.3,449.05 287.28,452.18 289.34,455.92 291.52,460.38 293.39,464.53 295.33,469.17 297.39,474.37 299.57,480.15 303.58,491.3 312.74,517.7 315.08,524.17 317.22,529.85 319.52,535.61 321.7,540.68 323.8,545.15 325.82,549.04 327.97,552.67 330.07,555.73 331.1,557.04 332.17,558.28 333.24,559.39 334.31,560.36 335.38,561.21 336.45,561.93 337.52,562.53 338.63,563.03 339.74,563.41 340.89,563.68 342.08,563.85 343.27,563.9"/>
<polyline points="190.76,563.9 191.47,563.85 192.19,563.69 192.9,563.41 193.62,563.03 194.33,562.54 195.04,561.93 196.51,560.36 197.98,558.35 199.49,555.84 200.99,552.89 202.54,549.46 204.16,545.42 205.83,540.86 207.57,535.69 209.44,529.78 213.25,516.75 220.7,489.7 223.75,478.97 226.97,468.49 228.43,464.1 229.86,460.11 231.57,455.78 233.23,452.04 234.82,448.99 236.4,446.45 237.2,445.39 237.95,444.52 238.74,443.73 239.5,443.12 240.29,442.62 241.04,442.28 241.8,442.08 242.59,442 243.34,442.06 244.14,442.27 244.93,442.61 245.72,443.1 246.52,443.72 247.35,444.52 248.14,445.41 248.97,446.47 250.64,449 252.38,452.17 254.21,456 256.07,460.39 257.7,464.58 259.36,469.16 261.15,474.36 263.05,480.17 266.54,491.39 274.43,517.63 276.49,524.22 278.36,529.92 280.34,535.64 282.24,540.74 284.07,545.22 285.81,549.08 287.68,552.72 289.5,555.77 291.33,558.32 292.24,559.4 293.15,560.36 294.06,561.19 295.01,561.94 295.96,562.55 296.92,563.04 297.87,563.41 298.86,563.69 299.89,563.85 300.92,563.9"/>
<polyline points="168.75,563.9 169.35,563.85 169.98,563.68 170.62,563.4 171.25,563 172.48,561.9 173.75,560.32 175.02,558.31 176.29,555.86 177.6,552.92 178.94,549.46 180.33,545.49 181.8,540.86 183.31,535.71 184.93,529.76 188.22,516.76 194.69,489.7 197.34,478.93 200.12,468.48 201.39,464.1 202.62,460.14 204.12,455.72 205.55,452.03 206.94,448.95 208.33,446.4 209.68,444.47 210.35,443.71 211.02,443.08 211.7,442.6 212.33,442.28 213.01,442.07 213.68,442 214.36,442.07 215.03,442.28 215.7,442.63 216.38,443.1 217.05,443.71 217.77,444.5 219.19,446.48 220.66,449.05 222.17,452.21 223.71,455.96 225.34,460.38 226.73,464.5 228.2,469.16 231.37,480.09 234.38,491.26 241.28,517.73 244.65,529.9 246.4,535.71 248.02,540.74 249.61,545.22 251.12,549.07 252.74,552.73 254.33,555.8 255.91,558.35 257.5,560.39 258.29,561.22 259.13,561.96 259.92,562.55 260.75,563.05 261.58,563.42 262.46,563.69 263.33,563.85 264.24,563.9"/>
<polyline points="149.64,563.9 150.19,563.85 150.71,563.69 151.23,563.44 151.78,563.04 152.85,561.96 153.96,560.38 155.07,558.35 156.18,555.89 157.33,552.91 158.48,549.51 159.71,545.45 160.98,540.83 162.29,535.67 163.68,529.81 166.53,516.8 172.16,489.6 174.46,478.85 176.88,468.35 179.02,460.11 180.33,455.69 181.56,452.02 182.75,448.97 183.94,446.45 185.13,444.47 185.73,443.7 186.28,443.1 186.88,442.61 187.43,442.28 187.99,442.08 188.58,442 189.17,442.07 189.77,442.28 190.36,442.63 190.96,443.12 191.55,443.75 192.15,444.51 193.38,446.47 194.65,449.04 195.96,452.21 197.3,455.98 198.69,460.33 201.15,469.04 203.93,480.07 206.54,491.26 212.53,517.76 215.47,529.98 216.93,535.62 218.36,540.72 219.71,545.12 221.06,549.1 222.45,552.71 223.83,555.8 225.18,558.31 226.57,560.37 227.24,561.19 227.96,561.93 228.67,562.55 229.38,563.04 230.1,563.41 230.85,563.69 231.61,563.85 232.4,563.9"/>
<polyline points="133.1,563.9 133.58,563.85 134.02,563.7 134.49,563.42 134.97,563.03 135.88,561.97 136.83,560.41 137.78,558.42 138.77,555.89 139.77,552.92 140.76,549.54 141.83,545.46 142.94,540.8 145.28,529.75 147.74,516.83 152.61,489.64 154.6,478.94 156.7,468.42 158.56,460.13 159.67,455.79 160.74,452.1 161.81,448.93 162.84,446.41 163.88,444.45 164.87,443.09 165.38,442.6 165.86,442.28 166.33,442.08 166.85,442 167.36,442.07 167.88,442.28 168.4,442.63 168.91,443.12 169.94,444.51 171.01,446.48 172.12,449.08 173.23,452.18 174.38,455.89 175.61,460.33 177.75,469.09 180.17,480.18 182.43,491.34 187.59,517.67 190.13,529.87 191.44,535.68 192.66,540.74 193.85,545.22 195,549.12 196.19,552.69 197.38,555.76 198.57,558.31 199.76,560.36 200.99,561.95 201.59,562.54 202.22,563.04 202.86,563.42 203.49,563.69 204.16,563.85 204.84,563.9"/>
<polyline points="118.79,563.9 119.18,563.85 119.58,563.69 119.98,563.42 120.41,563 121.21,561.91 122.04,560.32 122.87,558.29 123.71,555.82 124.54,552.94 125.41,549.51 126.32,545.5 127.27,540.89 129.34,529.66 131.48,516.66 137.39,479.01 139.21,468.46 140.84,460.12 141.79,455.83 142.74,452.04 143.65,448.93 144.52,446.47 145.4,444.53 146.27,443.13 146.7,442.64 147.14,442.29 147.58,442.07 148.01,442 148.45,442.06 148.89,442.26 149.32,442.6 149.8,443.12 150.71,444.53 151.62,446.48 152.57,449.04 153.57,452.24 154.56,455.93 155.63,460.4 157.49,469.21 159.55,480.12 161.54,491.42 165.98,517.6 168.2,529.91 170.38,540.69 171.41,545.18 172.4,549.07 173.43,552.64 174.46,555.71 175.49,558.28 176.53,560.33 177.6,561.94 178.11,562.53 178.67,563.04 179.22,563.42 179.78,563.69 180.33,563.85 180.93,563.9"/>
<polyline points="106.34,563.9 106.69,563.85 107.01,563.71 107.37,563.44 107.72,563.06 108.44,561.95 109.15,560.4 109.87,558.4 110.58,555.99 111.33,553 112.09,549.59 113.71,540.92 115.5,529.71 117.36,516.66 122.52,478.77 124.1,468.21 125.49,460.02 126.32,455.7 127.16,451.89 127.95,448.8 128.7,446.37 129.46,444.46 130.21,443.09 130.61,442.59 130.96,442.27 131.32,442.07 131.72,442 132.07,442.06 132.47,442.28 132.87,442.64 133.26,443.15 134.06,444.59 134.85,446.56 135.68,449.17 136.51,452.28 137.39,456.04 138.3,460.44 139.92,469.31 141.71,480.22 147.26,517.6 149.16,529.79 151.07,540.65 151.94,545.04 152.81,549 153.72,552.65 154.64,555.78 155.51,558.28 156.42,560.37 157.33,561.94 158.24,563.03 158.72,563.41 159.2,563.68 159.71,563.85 160.23,563.9"/>
<polyline points="95.59,563.9 95.87,563.86 96.19,563.69 96.5,563.4 96.82,563 97.41,561.91 98.05,560.29 98.64,558.35 99.28,555.86 99.91,552.95 100.59,549.41 101.97,540.85 103.52,529.63 105.11,516.81 109.59,478.81 110.94,468.44 112.17,460.05 112.88,455.77 113.59,452 114.27,448.94 114.94,446.41 115.62,444.44 116.25,443.1 116.57,442.63 116.88,442.29 117.2,442.08 117.56,442 117.88,442.07 118.19,442.26 118.51,442.58 118.87,443.08 119.54,444.46 120.26,446.47 120.97,449.03 121.72,452.27 122.48,456.01 123.27,460.43 124.66,469.15 126.2,480.05 131.04,517.62 132.71,529.92 134.37,540.86 135.88,549.14 136.67,552.79 137.47,555.91 138.22,558.37 139.01,560.45 139.81,562 140.6,563.07 140.99,563.43 141.43,563.7 141.87,563.86 142.3,563.9"/>
<polyline points="86.23,563.9 86.51,563.85 86.75,563.71 87.26,563.1 87.78,562.06 88.33,560.47 88.89,558.42 89.44,555.91 90.55,549.63 91.78,540.91 93.09,529.99 94.52,516.69 98.37,479.03 99.56,468.46 100.63,460.03 101.86,452.03 102.45,448.91 103.05,446.35 103.64,444.36 104.2,443.04 104.75,442.26 105.03,442.06 105.31,442 105.58,442.07 105.86,442.27 106.14,442.6 106.46,443.13 107.05,444.55 107.65,446.51 108.28,449.15 108.91,452.31 110.26,460.53 111.45,469.17 112.8,480.14 117,517.8 118.43,529.96 119.86,540.78 121.17,549.1 121.84,552.68 122.52,555.76 123.19,558.33 123.86,560.38 124.54,561.93 125.25,563.05 125.61,563.43 125.97,563.69 126.32,563.85 126.72,563.9"/>
<polyline points="78.14,563.9 78.38,563.86 78.62,563.69 79.05,563.07 79.49,562.05 79.97,560.48 80.44,558.46 80.92,555.99 81.91,549.51 82.98,540.72 84.13,529.61 85.32,516.8 88.69,478.75 89.72,468.21 90.63,459.94 91.7,451.92 92.22,448.83 92.7,446.45 93.21,444.44 93.69,443.11 94.16,442.29 94.4,442.08 94.68,442 94.92,442.07 95.15,442.26 95.67,443.12 96.19,444.54 96.7,446.49 97.22,448.94 97.77,452.1 98.96,460.43 99.99,469.06 101.18,480.21 104.79,517.53 106.06,530.01 107.29,540.76 108.44,549.18 109.03,552.82 109.63,555.93 110.18,558.35 110.78,560.43 111.37,561.99 111.97,563.06 112.28,563.44 112.6,563.7 112.92,563.85 113.24,563.9"/>
<polyline points="71.16,563.9 71.36,563.85 71.56,563.68 71.96,563.01 72.35,561.89 72.75,560.34 73.58,555.73 74.41,549.4 75.33,540.75 76.32,529.7 80.28,478.68 81.16,468.38 81.95,460.07 82.9,451.84 83.34,448.83 83.77,446.33 84.21,444.39 84.65,443.01 85.04,442.27 85.24,442.07 85.48,442 85.68,442.07 85.91,442.31 86.35,443.18 86.79,444.59 87.22,446.5 87.7,449.13 88.17,452.29 89.17,460.31 90.08,469.11 91.11,480.27 95.31,529.81 96.38,540.64 97.37,549.04 98.41,555.83 98.88,558.24 99.4,560.34 99.91,561.92 100.47,563.08 100.75,563.46 101.02,563.72 101.3,563.86 101.58,563.9"/>
<polyline points="65.06,563.9 65.25,563.85 65.41,563.7 65.73,563.12 66.09,562.02 66.44,560.44 67.16,555.93 67.87,549.74 68.66,541.13 69.54,529.95 72.99,478.76 73.74,468.49 74.41,460.31 75.25,451.96 76,446.43 76.4,444.38 76.75,443.07 77.11,442.27 77.27,442.09 77.47,442 77.63,442.04 77.83,442.24 78.22,443.09 78.58,444.37 78.98,446.32 79.81,452.09 80.68,460.2 81.47,469.02 82.35,479.9 86.03,530.01 86.95,540.64 87.82,549.16 88.69,555.77 89.13,558.32 89.56,560.36 90,561.91 90.47,563.06 90.95,563.71 91.19,563.85 91.43,563.9"/>
</g>
<g font-family="'Liberation Sans', Arial, Helvetica, sans-serif" fill="#262626">
<g font-size="15.8" text-anchor="middle">
<text transform="translate(25.20 583.90) scale(0.95 1.0)">0</text>
<text transform="translate(155.14 583.90) scale(0.95 1.0)">0.1</text>
<text transform="translate(285.08 583.90) scale(0.95 1.0)">0.2</text>
<text transform="translate(415.02 583.90) scale(0.95 1.0)">0.3</text>
<text transform="translate(544.96 583.90) scale(0.95 1.0)">0.4</text>
<text transform="translate(674.90 583.90) scale(0.95 1.0)">0.5</text>
</g>
<g font-size="15.8" text-anchor="end">
<text transform="translate(21.00 569.70) scale(0.95 1.0)">0</text>
<text transform="translate(21.00 508.80) scale(0.95 1.0)">0.5</text>
<text transform="translate(21.00 447.80) scale(0.95 1.0)">1</text>
</g>
<text x="350.15" y="604.10" font-size="16.65" text-anchor="middle">NORMALIZED FREQUENCY (HERZ)</text>
<text x="349.85" y="422.50" font-size="16.55" font-weight="bold" text-anchor="middle" fill="#000">(C). FREQUENCY RESPONSES: Q = 4.00, R = 3.00</text>
</g>
</svg>
</body></html>
